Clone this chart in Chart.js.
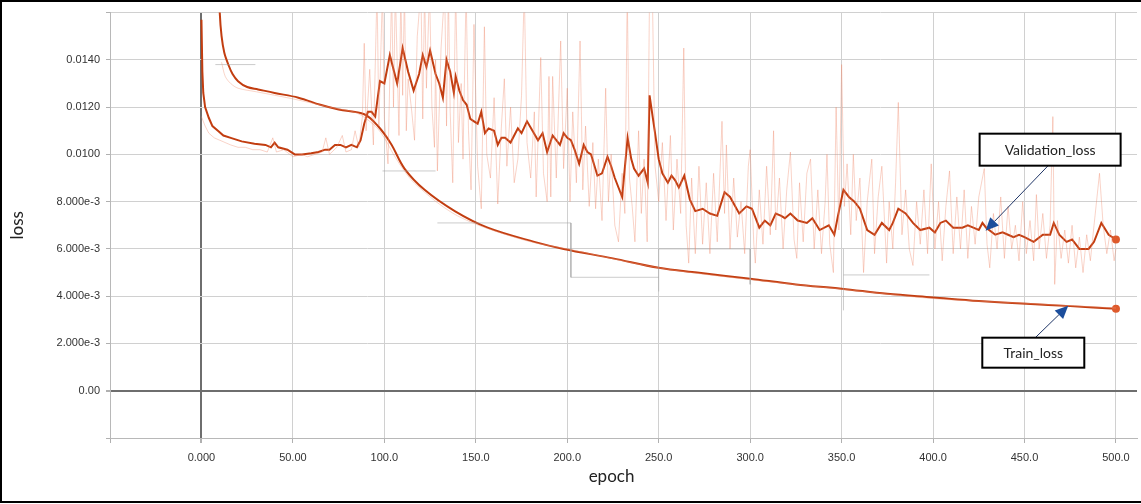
<!DOCTYPE html>
<html>
<head>
<meta charset="utf-8">
<script src="https://cdn.jsdelivr.net/npm/chart.js@4.4.1/dist/chart.umd.min.js"></script>
<style>
html,body{margin:0;padding:0;background:#fff;}
#wrap{position:relative;width:1141px;height:504px;}
canvas{display:block;}
</style>
</head>
<body>
<div id="wrap"><canvas id="c" width="1141" height="504"></canvas></div>
<script>
// ---------- tick labels ----------
const xTickValues = [-50, 0, 50, 100, 150, 200, 250, 300, 350, 400, 450, 500];
const xTickLabels = ['', '0.000', '50.00', '100.0', '150.0', '200.0', '250.0', '300.0', '350.0', '400.0', '450.0', '500.0'];
const yTickValues = [-0.002, 0, 0.002, 0.004, 0.006, 0.008, 0.010, 0.012, 0.014, 0.016];
const yTickLabels = ['', '0.00', '2.000e-3', '4.000e-3', '6.000e-3', '8.000e-3', '0.0100', '0.0120', '0.0140', ''];

// ---------- validation loss (smoothed) ----------
const valEpochs = [0,0.5,1,2,4,6,9,12,16,22,29,35,38,40,42,47,51,55,60,64,67.6,70,73,76,79,82,85,87,89,91,93,95,97.6,100,103,107,110,113,116,119,121,123,125,128,130,132,134,136,138,139,141,143,145,147,149,151,153,155,157,160,162,164,166,169,173,175,178,181,184,186.5,189,192,194,196,198,200,202,204,206.5,209,211,213,216.5,219,222,224,226,228,230,233,235,236.5,239,242,244,245,248,250,252,255,257,259,261,264,267,270,274,278,282,286,289,294,298,301,305,308,311,314,317,319,322,326,331,334,338,343,346,348,351,354,357,360,364,368,372,376,378,381,385,389,393,398,401,404,407,411,416,419,422,425,427,429,434,438,441,444,447,450,455,460,464,466,469,473,476,480,485,488,492,496,500];
const valLoss = [0.0157,0.0135,0.0126,0.0120,0.01155,0.0112,0.0110,0.0108,0.0107,0.01055,0.01045,0.0104,0.0103,0.0105,0.0103,0.0102,0.0100,0.0100,0.01005,0.0101,0.0102,0.0102,0.0104,0.0104,0.0103,0.0104,0.0103,0.0106,0.0113,0.0118,0.0118,0.0116,0.0131,0.0130,0.0142,0.0130,0.0145,0.0135,0.0127,0.0134,0.0142,0.0137,0.0144,0.0134,0.0130,0.0124,0.0140,0.0135,0.0126,0.0133,0.0127,0.0123,0.0121,0.0115,0.0114,0.0113,0.0118,0.0109,0.0111,0.0110,0.0104,0.0107,0.0107,0.0105,0.0111,0.0109,0.0114,0.0110,0.0106,0.0109,0.0101,0.0108,0.0106,0.0104,0.0109,0.0107,0.0106,0.0102,0.0096,0.0104,0.0101,0.0100,0.0091,0.0092,0.0099,0.0095,0.0090,0.0086,0.0082,0.0107,0.0098,0.0094,0.0091,0.0094,0.0088,0.0125,0.0109,0.0098,0.0092,0.0088,0.0091,0.0089,0.0086,0.0091,0.0081,0.0076,0.0077,0.0075,0.0074,0.0084,0.0082,0.0075,0.0078,0.0077,0.0069,0.0072,0.0070,0.0075,0.0074,0.0073,0.0075,0.0072,0.0071,0.0073,0.0068,0.0070,0.0066,0.0074,0.0085,0.0082,0.0080,0.0077,0.0068,0.0066,0.0071,0.0068,0.0071,0.0077,0.0075,0.0071,0.0068,0.0069,0.0067,0.0071,0.0072,0.0069,0.0069,0.0070,0.0069,0.0068,0.0071,0.0069,0.0066,0.0067,0.0066,0.0065,0.0066,0.0065,0.0063,0.0066,0.0066,0.0071,0.0066,0.0063,0.0064,0.0060,0.0060,0.0063,0.0071,0.0066,0.0064];

// ---------- validation loss (raw, faint) ----------
const rawValEpochs = [0,2,4,7,10,13,16,20,24,28,32,36,39,41,45,50,55,58,62,66,68,70,74,77,79,82,84,86,88,89,90,92,94,96,97,99,100,102,104,105,106,108,109,110,111,112,113,115,116.5,118,120,121,122,123,124.7,126,127.4,128,129,131,133,134,135,136,137.4,139,140.5,142,143,144.7,146,147.4,149,151,153,154.7,156,158,160,162,164,165.6,167,169,171,173,175,176.5,178,180,182,183,185.5,187,189,190,191,192,194,196.4,198,200,201.5,203,205,207,208.5,210,212,214,215.5,217,219,221,222.5,224,226,228,230,231.5,232.8,234,235.5,237,239,240.5,242,243.7,245,246.5,248,250,252,254,256.4,258,260,262,263.7,265,266.4,268,270,272,274,276,278,280,282,284.6,286,287,289,291,293,295,297,299,300,302,302.8,305,307,309,311,312.8,314,316,318,320,322,324,325.5,327,329,331,333,335,337,339,341,342,343.5,345.5,347,348.5,350,351.5,353,355,356.4,358,360,362,364,366.5,368,370,372,374.6,376,378,379.5,381,383,385,387,389,391,393,395,397,399,401,403,405,407,409,411,413,415,417,419,421,423,425,428,429.5,431,433,435,437,439,441,443,445,447,449,451,453,455,456.5,458,460,462,464,465.5,466.5,468,470,472,474,476,478,480,482,484,486,488,491,493,495,497,499,500];
const rawValLoss = [0.0116,0.0112,0.0109,0.0107,0.0106,0.0105,0.0104,0.0103,0.0103,0.0102,0.0102,0.0101,0.0107,0.0101,0.0102,0.0099,0.0100,0.0099,0.0100,0.0101,0.0107,0.0100,0.0103,0.0108,0.0101,0.0102,0.0110,0.0103,0.0116,0.0147,0.0110,0.0136,0.0104,0.0170,0.0112,0.0170,0.0115,0.0096,0.0170,0.0120,0.0170,0.0108,0.0170,0.0125,0.0170,0.0110,0.0132,0.0118,0.0106,0.0150,0.0170,0.0115,0.0170,0.0128,0.0170,0.0120,0.0103,0.0140,0.0093,0.0145,0.0170,0.0112,0.0170,0.0118,0.0088,0.0170,0.0105,0.0130,0.0098,0.0170,0.0110,0.0085,0.0155,0.0095,0.0077,0.0154,0.0100,0.0090,0.0124,0.0079,0.0112,0.0132,0.0095,0.0120,0.0088,0.0098,0.0125,0.0170,0.0105,0.0090,0.0118,0.0082,0.0141,0.0092,0.0080,0.0133,0.0082,0.0133,0.0090,0.0148,0.0094,0.0128,0.0080,0.0118,0.0088,0.0148,0.0085,0.0112,0.0078,0.0105,0.0077,0.0098,0.0072,0.0128,0.0080,0.0100,0.0070,0.0063,0.0092,0.0075,0.0170,0.0090,0.0078,0.0063,0.0110,0.0075,0.0098,0.0063,0.0170,0.0170,0.0095,0.0080,0.0105,0.0072,0.0108,0.0068,0.0098,0.0075,0.0145,0.0070,0.0054,0.0090,0.0058,0.0095,0.0062,0.0088,0.0058,0.0092,0.0063,0.0114,0.0075,0.0104,0.0060,0.0090,0.0065,0.0080,0.0058,0.0095,0.0102,0.0062,0.0054,0.0085,0.0062,0.0095,0.0066,0.0110,0.0068,0.0090,0.0060,0.0085,0.0101,0.0064,0.0056,0.0088,0.0063,0.0092,0.0098,0.0060,0.0085,0.0058,0.0080,0.0100,0.0062,0.0050,0.0120,0.0068,0.0138,0.0078,0.0096,0.0066,0.0100,0.0072,0.0090,0.0050,0.0080,0.0098,0.0058,0.0082,0.0095,0.0054,0.0080,0.0060,0.0088,0.0122,0.0066,0.0085,0.0060,0.0053,0.0080,0.0062,0.0085,0.0058,0.0096,0.0060,0.0080,0.0055,0.0078,0.0093,0.0058,0.0082,0.0060,0.0085,0.0056,0.0078,0.0062,0.0082,0.0094,0.0062,0.0052,0.0075,0.0060,0.0082,0.0056,0.0078,0.0060,0.0070,0.0055,0.0080,0.0058,0.0072,0.0055,0.0083,0.0060,0.0075,0.0056,0.0070,0.0116,0.0045,0.0072,0.0056,0.0068,0.0054,0.0070,0.0052,0.0065,0.0050,0.0066,0.0055,0.0070,0.0092,0.0070,0.0058,0.0068,0.0055,0.0060];

// ---------- train loss (smoothed) ----------
const trainEpochs = [9.5,10,11,12.5,14.7,17,20,25,31,40,53,65,75,89,96.5,103.6,111,122,138.5,156.5,182,198,225,250,271,300,325,350,375,400,425,451,475,500];
const trainLoss = [0.0175,0.0160,0.0150,0.0143,0.0138,0.0134,0.0131,0.01285,0.01275,0.0126,0.0124,0.0121,0.0119,0.0117,0.0112,0.01045,0.0094,0.0085,0.0076,0.0069,0.0063,0.0060,0.0056,0.0052,0.0050,0.00474,0.0045,0.00432,0.0041,0.00395,0.0038,0.00368,0.00358,0.00347];

// ---------- train loss (raw, faint) ----------
const rawTrainEpochs = [11,13,16,20,30,50,70,85,95,100,105,110,115,122,130,140,155,180,200,250,300,350,400,450,500];
const rawTrainLoss = [0.0139,0.0133,0.0130,0.0128,0.01265,0.01235,0.0120,0.01175,0.0112,0.0107,0.0100,0.0094,0.0089,0.0084,0.0079,0.0074,0.0069,0.0063,0.0060,0.0052,0.0047,0.0043,0.0039,0.0037,0.0035];

// ---------- faint grey step traces ----------
const stepEpochs = [7.6,29.5,null,99,128,null,129,202,202,250,null,250,250,300,300,null,351,351,null,351,398];
const stepLoss   = [0.0138,0.0138,null,0.0093,0.0093,null,0.0071,0.0071,0.0048,0.0048,null,0.0042,0.0060,0.0060,0.0045,null,0.0034,0.0060,null,0.0049,0.0049];

// ---------- annotation callouts (data coordinates) ----------
const calloutText   = ['Validation_loss', 'Train_loss'];
const calloutBoxAt  = [[464, 0.0102], [454.8, 0.00161]];
const calloutTipAt  = [[428.7, 0.00677], [473.9, 0.0036]];

function pts(xs, ys) {
  return xs.map((x, i) => (x === null ? {x: null, y: null} : {x: x, y: ys[i]}));
}

const DARK = '#c23d10';
const lastDot = (n) => (ctx) => (ctx.dataIndex === n - 1 ? 4 : 0);

const overlay = {
  id: 'overlay',
  afterDraw(chart) {
    const c = chart.ctx, xs = chart.scales.x, ys = chart.scales.y, a = chart.chartArea;
    c.save();
    // axis titles
    c.fillStyle = '#222';
    c.font = '17px Lato, "Open Sans", sans-serif';
    c.textAlign = 'center';
    c.textBaseline = 'middle';
    c.fillText('epoch', (a.left + a.right) / 2 - 12, 477);
    c.save();
    c.translate(18, (a.top + a.bottom) / 2);
    c.rotate(-Math.PI / 2);
    c.fillText('loss', 0, 0);
    c.restore();
    // callouts
    const sizes = [[141, 32], [102, 30]];
    calloutText.forEach((t, i) => {
      const bx = xs.getPixelForValue(calloutBoxAt[i][0]);
      const by = ys.getPixelForValue(calloutBoxAt[i][1]);
      const tx = xs.getPixelForValue(calloutTipAt[i][0]);
      const ty = ys.getPixelForValue(calloutTipAt[i][1]);
      const w = sizes[i][0], h = sizes[i][1];
      const sx = bx + (i === 0 ? -2 : 2);
      const sy = ty > by ? by + h / 2 : by - h / 2;
      const ang = Math.atan2(ty - sy, tx - sx);
      const hl = 13, hw = 6;
      const bxl = tx - hl * Math.cos(ang), byl = ty - hl * Math.sin(ang);
      c.strokeStyle = '#1f3566';
      c.lineWidth = 1;
      c.beginPath(); c.moveTo(sx, sy); c.lineTo(bxl, byl); c.stroke();
      c.fillStyle = '#1c4e9c';
      c.beginPath();
      c.moveTo(tx, ty);
      c.lineTo(bxl + hw * Math.sin(ang), byl - hw * Math.cos(ang));
      c.lineTo(bxl - hw * Math.sin(ang), byl + hw * Math.cos(ang));
      c.closePath(); c.fill();
      c.fillStyle = '#fff';
      c.fillRect(bx - w / 2, by - h / 2, w, h);
      c.strokeStyle = '#000';
      c.lineWidth = 2;
      c.strokeRect(bx - w / 2, by - h / 2, w, h);
      c.fillStyle = '#222';
      c.font = '14px Lato, "Open Sans", sans-serif';
      c.textAlign = 'center';
      c.textBaseline = 'middle';
      c.fillText(t, bx, by + 1);
    });
    // outer frame
    c.strokeStyle = '#000';
    c.lineWidth = 2;
    c.beginPath();
    c.moveTo(1141, 1); c.lineTo(1, 1); c.lineTo(1, 502); c.lineTo(1141, 502);
    c.stroke();
    c.restore();
  }
};

new Chart(document.getElementById('c'), {
  type: 'line',
  data: {
    datasets: [
      { data: pts(rawValEpochs, rawValLoss), borderColor: 'rgba(240,140,110,0.38)', borderWidth: 1, pointRadius: 0, tension: 0 },
      { data: pts(rawTrainEpochs, rawTrainLoss), borderColor: 'rgba(240,150,120,0.4)', borderWidth: 1, pointRadius: 0, tension: 0.3 },
      { data: pts(stepEpochs, stepLoss), borderColor: 'rgba(160,160,160,0.55)', borderWidth: 1, pointRadius: 0, spanGaps: false, tension: 0 },
      { data: pts(trainEpochs, trainLoss), borderColor: DARK, backgroundColor: '#de5a2c', borderWidth: 2, tension: 0.35,
        pointRadius: lastDot(trainEpochs.length), pointBorderWidth: 0, pointBackgroundColor: '#de5a2c' },
      { data: pts(valEpochs, valLoss), borderColor: DARK, backgroundColor: '#de5a2c', borderWidth: 2, tension: 0,
        pointRadius: lastDot(valEpochs.length), pointBorderWidth: 0, pointBackgroundColor: '#de5a2c' }
    ]
  },
  options: {
    responsive: false,
    animation: false,
    devicePixelRatio: 1,
    parsing: true,
    layout: { padding: { top: 12, right: 0, left: 0, bottom: 0 } },
    plugins: { legend: { display: false }, tooltip: { enabled: false } },
    scales: {
      x: {
        type: 'linear', min: -50, max: 511.5,
        afterBuildTicks: (s) => { s.ticks = xTickValues.map(v => ({ value: v })); },
        afterFit: (s) => { s.height = 66; },
        ticks: {
          callback: (v) => { const i = xTickValues.indexOf(v); return i >= 0 ? xTickLabels[i] : ''; },
          font: { family: '"Liberation Sans", Arial, sans-serif', size: 11 },
          color: '#333', padding: 8, maxRotation: 0, autoSkip: false
        },
        grid: {
          color: (ctx) => (ctx.tick && ctx.tick.value === 0 ? '#6e6e6e' : '#d0d0d0'),
          lineWidth: (ctx) => (ctx.tick && ctx.tick.value === 0 ? 2 : 1),
          tickLength: 5, tickColor: '#b0b0b0'
        },
        border: { display: true, color: '#b8b8b8', width: 1 }
      },
      y: {
        type: 'linear', min: -0.002, max: 0.016,
        afterBuildTicks: (s) => { s.ticks = yTickValues.map(v => ({ value: v })); },
        afterFit: (s) => { s.width = 110; },
        ticks: {
          callback: (v) => { const i = yTickValues.findIndex(t => Math.abs(t - v) < 1e-9); return i >= 0 ? yTickLabels[i] : ''; },
          font: { family: '"Liberation Sans", Arial, sans-serif', size: 11 },
          color: '#333', padding: 6, autoSkip: false
        },
        grid: {
          color: (ctx) => (ctx.tick && Math.abs(ctx.tick.value) < 1e-12 ? '#6e6e6e' : '#d0d0d0'),
          lineWidth: (ctx) => (ctx.tick && Math.abs(ctx.tick.value) < 1e-12 ? 2 : 1),
          tickLength: 4, tickColor: '#b0b0b0'
        },
        border: { display: true, color: '#b8b8b8', width: 1 }
      }
    }
  },
  plugins: [overlay]
});
</script>
</body>
</html>
